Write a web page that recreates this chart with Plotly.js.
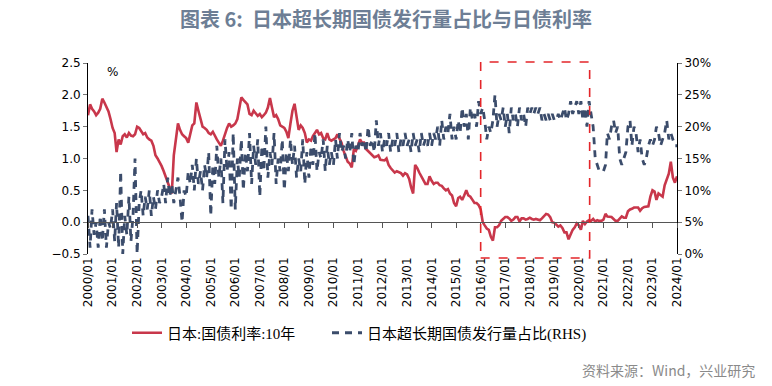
<!DOCTYPE html>
<html>
<head>
<meta charset="utf-8">
<script src="https://cdn.plot.ly/plotly-3.0.1.min.js"></script>
<style>
html,body{margin:0;padding:0;background:#fff;}
#chart{width:772px;height:386px;}
</style>
</head>
<body>
<div id="chart"></div>
<script>
// ---- DATA ----
const startYear = 2000;
// Japan 10Y JGB yield (%), monthly 2000/01 .. 2024/01
const jgb10y = [
  1.68,1.85,1.78,1.74,1.68,1.72,1.78,1.94,1.88,1.80,1.74,1.62, // 2000
  1.48,1.40,1.10,1.30,1.22,1.35,1.38,1.33,1.40,1.36,1.35,1.38, // 2001
  1.50,1.48,1.42,1.38,1.40,1.33,1.30,1.28,1.20,1.05,1.00,0.95, // 2002
  0.88,0.80,0.72,0.62,0.55,0.45,1.05,1.30,1.55,1.45,1.38,1.35, // 2003
  1.32,1.25,1.40,1.52,1.55,1.88,1.75,1.62,1.50,1.48,1.45,1.40, // 2004
  1.38,1.42,1.35,1.30,1.25,1.20,1.28,1.40,1.48,1.55,1.50,1.52, // 2005
  1.55,1.62,1.78,1.96,1.92,1.88,1.85,1.70,1.68,1.75,1.70,1.67, // 2006
  1.70,1.65,1.68,1.72,1.80,1.95,1.80,1.65,1.68,1.62,1.52,1.50, // 2007
  1.48,1.42,1.32,1.55,1.75,1.86,1.62,1.45,1.52,1.48,1.40,1.25, // 2008
  1.30,1.28,1.35,1.40,1.45,1.38,1.40,1.32,1.30,1.40,1.30,1.28, // 2009
  1.30,1.32,1.38,1.30,1.25,1.12,1.05,0.95,0.92,0.86,1.15,1.12, // 2010
  1.20,1.30,1.25,1.25,1.15,1.12,1.08,1.05,1.02,1.03,1.05,0.98, // 2011
  0.98,0.97,1.00,0.90,0.85,0.82,0.78,0.80,0.78,0.77,0.73,0.77, // 2012
  0.75,0.68,0.55,0.45,0.90,0.85,0.78,0.72,0.68,0.60,0.60,0.72, // 2013
  0.65,0.60,0.62,0.62,0.58,0.57,0.53,0.50,0.52,0.45,0.42,0.30, // 2014
  0.25,0.38,0.40,0.35,0.42,0.50,0.42,0.40,0.35,0.30,0.30,0.27, // 2015
  0.20,0.00,-0.05,-0.10,-0.12,-0.23,-0.29,-0.08,-0.08,-0.05,0.02,0.05, // 2016
  0.08,0.08,0.06,0.02,0.04,0.08,0.08,0.01,0.06,0.06,0.04,0.05, // 2017
  0.07,0.05,0.04,0.05,0.04,0.03,0.06,0.10,0.13,0.12,0.08,0.00, // 2018
  -0.01,-0.04,-0.07,-0.05,-0.09,-0.16,-0.16,-0.27,-0.20,-0.12,-0.08,-0.02, // 2019
  -0.05,-0.12,0.02,-0.03,0.01,0.03,0.02,0.05,0.01,0.03,0.02,0.02, // 2020
  0.04,0.13,0.09,0.09,0.08,0.05,0.02,0.02,0.05,0.09,0.07,0.07, // 2021
  0.17,0.20,0.21,0.23,0.23,0.23,0.18,0.22,0.24,0.25,0.25,0.40, // 2022
  0.50,0.48,0.35,0.45,0.42,0.40,0.58,0.68,0.76,0.95,0.70,0.62, // 2023
  0.72                                                          // 2024
];
// Share of super-long JGB issuance (%), monthly 2000/01 .. 2024/01 (RHS)
const superLongShare = [
  6,1,7,3,5,1,6,2,7,1,5,4,          // 2000
  7,2,8,1,13,0,6,3,9,2,6,15,        // 2001
  0,8,10,6,9,7,10,6,9,7,10,8,       // 2002
  9,11,8,12,9,11,8,10,12,9,5,10,    // 2003
  9,13,11,14,10,15,11,13,10,14,12,16, // 2004
  6,14,11,17,12,15,8,18,13,16,7,19, // 2005
  7,15,12,18,10,16,13,19,11,17,14,18, // 2006
  9,17,13,20,12,16,14,19,11,15,13,18, // 2007
  10,16,13,18,14,17,12,15,13,18,11,16, // 2008
  12,17,14,19,13,16,15,18,13,17,14,16, // 2009
  14,18,15,19,16,17,15,18,16,19,14,17, // 2010
  16,19,17,18,16,20,17,18,16,21,17,19, // 2011
  16,18,17,19,16,18,17,19,16,18,17,19, // 2012
  17,18,16,19,17,18,16,19,17,18,17,19, // 2013
  17,19,18,20,17,21,18,20,19,22,18,20, // 2014
  18,21,19,23,20,22,18,23,21,22,20,24, // 2015
  22,23,21,18,20,19,21,25,20,22,21,23, // 2016
  20,22,19,23,21,22,20,23,21,22,20,23, // 2017
  22,23,22,23,22,23,21,22,21,22,21,22, // 2018
  21,21,22,21,22,23,21,22,24,22,23,24, // 2019
  22,24,21,23,20,24,22,20,15,14,13,13, // 2020
  13,14,19,18,20,21,19,20,15,14,15,16, // 2021
  20,21,17,20,19,16,18,15,14,15,17,18, // 2022
  17,18,20,19,17,18,19,21,18,19,18,17, // 2023
  17                                   // 2024
];
const seriesNames = ['日本:国债利率:10年', '日本超长期国债发行量占比(RHS)'];
const chartTitle = '图表 6:  日本超长期国债发行量占比与日债利率';
const sourceNote = '资料来源：Wind，兴业研究';
const highlightPeriod = ['2016-01-01', '2020-06-10'];

// ---- BUILD ----
function monthDates(n) {
  const out = [];
  for (let i = 0; i < n; i++) {
    const y = startYear + Math.floor(i / 12);
    const m = (i % 12) + 1;
    out.push(y + '-' + (m < 10 ? '0' + m : m) + '-01');
  }
  return out;
}

const RED = '#c8374b';
const BLUE = '#3b4c6b';
const tickFont = {family: 'DejaVu Sans, Liberation Sans, sans-serif', size: 12, color: '#000'};
const legendFont = {family: 'Liberation Serif, Noto Sans CJK SC, serif', size: 15, color: '#000'};

const traces = [
  {
    x: monthDates(jgb10y.length), y: jgb10y, name: seriesNames[0],
    type: 'scatter', mode: 'lines', yaxis: 'y', legend: 'legend',
    line: {color: RED, width: 2.6}
  },
  {
    x: monthDates(superLongShare.length), y: superLongShare, name: seriesNames[1],
    type: 'scatter', mode: 'lines', yaxis: 'y2', legend: 'legend2',
    line: {color: BLUE, width: 2.8, dash: '7px,6px'}
  },
  {
    x: [], y: [], xaxis: 'x2', yaxis: 'y', showlegend: false, hoverinfo: 'skip',
    type: 'scatter', mode: 'lines'
  }
];

const layout = {
  width: 772, height: 386,
  margin: {l: 88, r: 95, t: 63, b: 132},
  paper_bgcolor: '#fff', plot_bgcolor: '#fff',
  showlegend: true,
  title: {
    text: chartTitle,
    font: {family: 'Noto Sans CJK SC, sans-serif', size: 20, color: '#6d7e95', weight: 'bold'},
    x: 0.5, xanchor: 'center', xref: 'container',
    y: 1 - 20 / 386, yanchor: 'middle', yref: 'container'
  },
  xaxis: {
    type: 'date', range: ['2000-01-01', '2024-01-01'],
    dtick: 'M12', tick0: '2000-01-01', tickformat: '%Y/%m',
    tickangle: -90, tickfont: tickFont,
    showgrid: false, zeroline: false, showline: false, ticks: '',
    automargin: false
  },
  xaxis2: {
    type: 'date', range: ['2000-01-01', '2024-01-01'],
    dtick: 'M12', tick0: '2000-01-01',
    overlaying: 'x', anchor: 'free', position: 1 / 6,
    showticklabels: false, showgrid: false, zeroline: false,
    showline: true, linecolor: '#555', linewidth: 1.2,
    ticks: 'outside', ticklen: 5, tickcolor: '#555', tickwidth: 1
  },
  yaxis: {
    range: [-0.5, 2.5], dtick: 0.5, tickformat: '.1f',
    tickfont: tickFont, showgrid: false, zeroline: false,
    showline: true, linecolor: '#000', linewidth: 1,
    ticks: 'outside', ticklen: 4, tickcolor: '#777', automargin: false
  },
  yaxis2: {
    range: [0, 30], dtick: 5, ticksuffix: '%',
    overlaying: 'y', side: 'right', anchor: 'x',
    tickfont: tickFont, showgrid: false, zeroline: false,
    showline: true, linecolor: '#000', linewidth: 1,
    ticks: 'outside', ticklen: 4, tickcolor: '#777', automargin: false
  },
  legend: {
    orientation: 'h', x: (127 - 88) / 589, xanchor: 'left',
    y: (254 - 333) / 191, yanchor: 'middle',
    font: legendFont, bgcolor: 'rgba(0,0,0,0)', borderwidth: 0
  },
  legend2: {
    orientation: 'h', x: (327 - 88) / 589, xanchor: 'left',
    y: (254 - 333) / 191, yanchor: 'middle',
    font: legendFont, bgcolor: 'rgba(0,0,0,0)', borderwidth: 0
  },
  shapes: [{
    type: 'rect', xref: 'x', yref: 'paper',
    x0: highlightPeriod[0], x1: highlightPeriod[1],
    y0: -0.021, y1: 1.005,
    line: {color: '#e3262a', width: 1.6, dash: 'dash'},
    fillcolor: 'rgba(0,0,0,0)'
  }],
  annotations: [
    {
      text: '%', xref: 'paper', yref: 'paper', x: 0.042, y: 0.953,
      xanchor: 'center', yanchor: 'middle', showarrow: false,
      font: {family: 'DejaVu Sans, sans-serif', size: 12, color: '#000'}
    },
    {
      text: sourceNote, xref: 'paper', yref: 'paper',
      x: (757 - 88) / 589, y: (254 - 370) / 191,
      xanchor: 'right', yanchor: 'middle', showarrow: false,
      font: {family: 'Noto Sans CJK SC, sans-serif', size: 14, color: '#8a8a8a'}
    }
  ]
};

Plotly.newPlot('chart', traces, layout, {displayModeBar: false, staticPlot: true});
</script>
</body>
</html>
